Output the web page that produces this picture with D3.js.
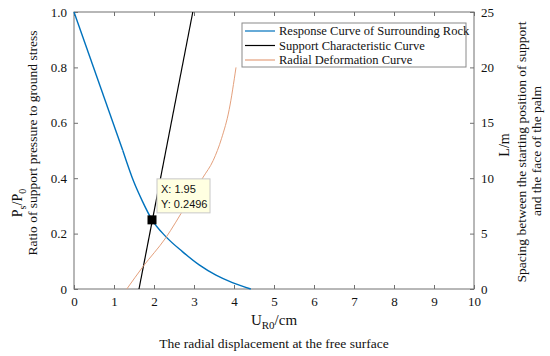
<!DOCTYPE html>
<html><head><meta charset="utf-8">
<script src="https://cdn.jsdelivr.net/npm/d3@7"></script>
<style>body{margin:0;background:#fff} svg text{font-family:"Liberation Serif","Times New Roman",serif;}</style>
</head><body>
<svg id="c" width="550" height="356"></svg>
<script>
// Data
const responseX = [0, 1.22, 1.5, 1.7, 1.95, 2.29, 2.71, 3.13, 3.55, 3.96, 4.42];
const responseY = [1.0, 0.5, 0.385, 0.32, 0.2496, 0.19, 0.135, 0.087, 0.05, 0.023, 0];
const supportX = [1.625, 2.97];
const supportY = [0, 1.0];
const radialX = [1.32, 1.72, 2.29, 2.8, 3.23, 3.48, 3.69, 3.88, 4.05];
const radialL = [0, 2.0, 4.6, 7.55, 10.1, 11.6, 13.6, 16.2, 20.0];
const xTicks = [0,1,2,3,4,5,6,7,8,9,10];
const yTicks = [0,0.2,0.4,0.6,0.8,1.0];
const yTickLabels = ["0","0.2","0.4","0.6","0.8","1.0"];
const y2Ticks = [0,5,10,15,20,25];
const legendNames = ["Response Curve of Surrounding Rock","Support Characteristic Curve","Radial Deformation Curve"];
const colors = ["#0072BD","#000000","#E4A07C"];
const marker = {x:1.95, y:0.2496};

const svg = d3.select("#c");
const L = 74, R = 474, T = 12, B = 289;
const x = d3.scaleLinear().domain([0,10]).range([L,R]);
const y = d3.scaleLinear().domain([0,1]).range([B,T]);
const y2 = d3.scaleLinear().domain([0,25]).range([B,T]);
const serif = "Liberation Serif";
const axisCol = "#707070";

// frame
svg.append("rect").attr("x",L).attr("y",T).attr("width",R-L).attr("height",B-T)
  .attr("fill","none").attr("stroke",axisCol).attr("stroke-width",1);

function styleAxis(g){
  g.attr("font-family",null).attr("font-size",null);
  g.select(".domain").remove();
  g.selectAll(".tick line").attr("stroke",axisCol);
  g.selectAll(".tick text").attr("fill","#111").attr("font-family",serif).attr("font-size",13);
}
// bottom
svg.append("g").attr("transform",`translate(0,${B})`)
  .call(d3.axisBottom(x).tickValues(xTicks).tickFormat(d3.format("d")).tickSizeInner(-4).tickPadding(8))
  .call(styleAxis);
// top ticks
svg.append("g").attr("transform",`translate(0,${T})`)
  .call(d3.axisTop(x).tickValues(xTicks).tickFormat("").tickSizeInner(-4))
  .call(styleAxis);
// left
svg.append("g").attr("transform",`translate(${L},0)`)
  .call(d3.axisLeft(y).tickValues(yTicks).tickFormat((d,i)=>yTickLabels[i]).tickSizeInner(-4).tickPadding(7))
  .call(styleAxis);
// right
svg.append("g").attr("transform",`translate(${R},0)`)
  .call(d3.axisRight(y2).tickValues(y2Ticks).tickFormat(d3.format("d")).tickSizeInner(-4).tickPadding(7))
  .call(styleAxis);

// lines
const line = d3.line().curve(d3.curveMonotoneX);
svg.append("path").attr("d", d3.line()(responseX.slice(0,2).map((v,i)=>[x(v),y(responseY[i])])))
  .attr("fill","none").attr("stroke",colors[0]).attr("stroke-width",1.4);
svg.append("path").attr("d", line(responseX.slice(1).map((v,i)=>[x(v),y(responseY[i+1])])))
  .attr("fill","none").attr("stroke",colors[0]).attr("stroke-width",1.4);
svg.append("path").attr("d", d3.line()(supportX.map((v,i)=>[x(v),y(supportY[i])])))
  .attr("fill","none").attr("stroke",colors[1]).attr("stroke-width",1.2);
svg.append("path").attr("d", line(radialX.map((v,i)=>[x(v),y2(radialL[i])])))
  .attr("fill","none").attr("stroke",colors[2]).attr("stroke-width",1);

// marker
svg.append("rect").attr("x",x(marker.x)-4.5).attr("y",y(marker.y)-4.5).attr("width",9).attr("height",9).attr("fill","#000");
// datatip
const tx = x(marker.x)+5, ty = y(marker.y)-41;
svg.append("rect").attr("x",tx).attr("y",ty).attr("width",53).attr("height",34)
  .attr("fill","#FFFFE1").attr("stroke","#c8c8c8").attr("stroke-width",1);
const sans = "Liberation Sans";
svg.append("text").attr("x",tx+4).attr("y",ty+14).text("X: "+marker.x)
  .attr("font-family",sans).style("font-family",sans).attr("font-size",11).attr("fill","#111");
svg.append("text").attr("x",tx+4).attr("y",ty+29).text("Y: "+marker.y)
  .attr("font-family",sans).style("font-family",sans).attr("font-size",11).attr("fill","#111");

// legend
const lg = svg.append("g");
lg.append("rect").attr("x",242).attr("y",23).attr("width",224).attr("height",44)
  .attr("fill","#fff").attr("stroke","#8a8a8a").attr("stroke-width",1);
legendNames.forEach((n,i)=>{
  const yy = 31 + i*14.5;
  lg.append("line").attr("x1",245).attr("x2",275).attr("y1",yy).attr("y2",yy)
    .attr("stroke",colors[i]).attr("stroke-width",1.2);
  lg.append("text").attr("x",279).attr("y",yy+4).text(n)
    .attr("font-size",12.5).attr("fill","#111");
});

// axis titles
const xt = svg.append("text").attr("x",274).attr("y",325).attr("text-anchor","middle")
  .attr("font-size",15).attr("fill","#111");
xt.append("tspan").text("U");
xt.append("tspan").attr("dy",4).attr("font-size",11).text("R0");
xt.append("tspan").attr("dy",-4).text("/cm");
svg.append("text").attr("x",274).attr("y",348).attr("text-anchor","middle")
  .attr("font-size",13.5).attr("fill","#111")
  .text("The radial displacement at the free surface");

// left titles
const pt = svg.append("text").attr("transform","translate(22,203) rotate(-90)").attr("text-anchor","middle")
  .attr("font-size",14).attr("fill","#111");
pt.append("tspan").text("P");
pt.append("tspan").attr("dy",4).attr("font-size",10).text("s");
pt.append("tspan").attr("dy",-4).text("/P");
pt.append("tspan").attr("dy",4).attr("font-size",10).text("0");
svg.append("text").attr("transform","translate(37,143) rotate(-90)").attr("text-anchor","middle")
  .attr("font-size",13.5).attr("fill","#111")
  .text("Ratio of support pressure to ground stress");

// right titles
svg.append("text").attr("transform","translate(509,145) rotate(-90)").attr("text-anchor","middle")
  .attr("font-size",14).attr("fill","#111").text("L/m");
svg.append("text").attr("transform","translate(526,152) rotate(-90)").attr("text-anchor","middle")
  .attr("font-size",13.5).attr("fill","#111")
  .text("Spacing between the starting position of support");
svg.append("text").attr("transform","translate(541,151) rotate(-90)").attr("text-anchor","middle")
  .attr("font-size",13.5).attr("fill","#111")
  .text("and the face of the palm");
</script>
</body></html>
